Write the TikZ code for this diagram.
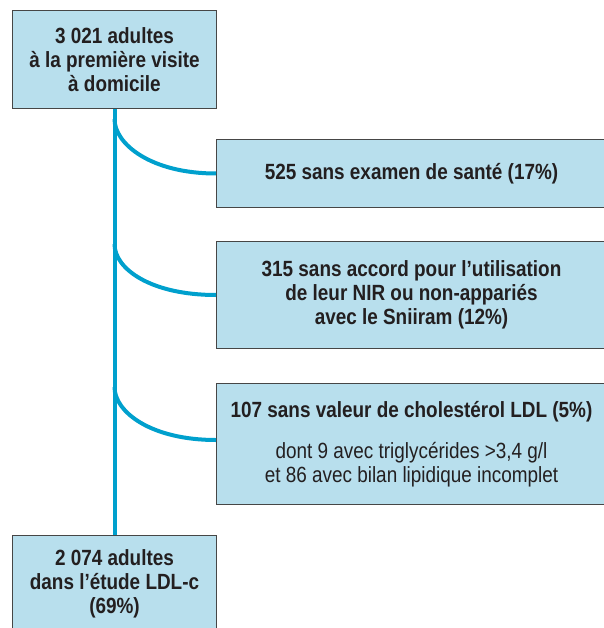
\documentclass[tikz,border=0pt]{standalone}
\usepackage{fontspec}
\setmainfont{Liberation Sans}[FakeStretch=0.86]
\usetikzlibrary{positioning}
\definecolor{boxfill}{RGB}{184,223,237}
\definecolor{boxdraw}{RGB}{70,70,70}
\definecolor{flowline}{RGB}{0,160,205}
\definecolor{textcol}{RGB}{35,31,32}

\begin{document}
\begin{tikzpicture}[x=1pt, y=-1pt, font=\fontsize{22}{24}\selectfont, text=textcol]
	\tikzstyle{box}=[draw=boxdraw, fill=boxfill, line width=1pt, rectangle, inner sep=0pt, align=center, anchor=north west]
	\tikzstyle{side}=[box, minimum width=390pt]
	\tikzstyle{flow}=[draw=flowline, line width=4pt]
	\useasboundingbox (0,0) rectangle (603,628);

	\node[box, minimum width=204pt, minimum height=98pt] (start) at (12,10) {\bfseries 3 021 adultes\\ \bfseries à la première visite\\ \bfseries à domicile};
	\node[side, minimum height=68pt] (excl1) at (216,139) {\bfseries 525 sans examen de santé (17\%)};
	\node[side, minimum height=107pt] (excl2) at (216,241) {\bfseries 315 sans accord pour l’utilisation\\ \bfseries de leur NIR ou non-appariés\\ \bfseries avec le Sniiram (12\%)};
	\node[side, minimum height=121pt] (excl3) at (216,383) {\bfseries 107 sans valeur de cholestérol LDL (5\%)\\[17pt] dont 9 avec triglycérides >3,4 g/l\\ et 86 avec bilan lipidique incomplet};
	\node[box, minimum width=204pt, minimum height=96pt] (final) at (12,535) {\bfseries 2 074 adultes\\ \bfseries dans l’étude LDL-c\\ \bfseries (69\%)};

	% branch points on the main line
	\coordinate[below=10pt of start.south] (fork1);
	\coordinate[below=135pt of start.south] (fork2);
	\coordinate[below=278pt of start.south] (fork3);

	\path[flow] (start.south) -- (final.north);
	\path[flow] (fork1) .. controls +(0,25) and +(-65,0) .. (excl1.west);
	\path[flow] (fork2) .. controls +(0,25) and +(-65,0) .. (excl2.west);
	\path[flow] (fork3) .. controls +(0,25) and +(-65,0) .. ([yshift=4pt]excl3.west);
\end{tikzpicture}
\end{document}
